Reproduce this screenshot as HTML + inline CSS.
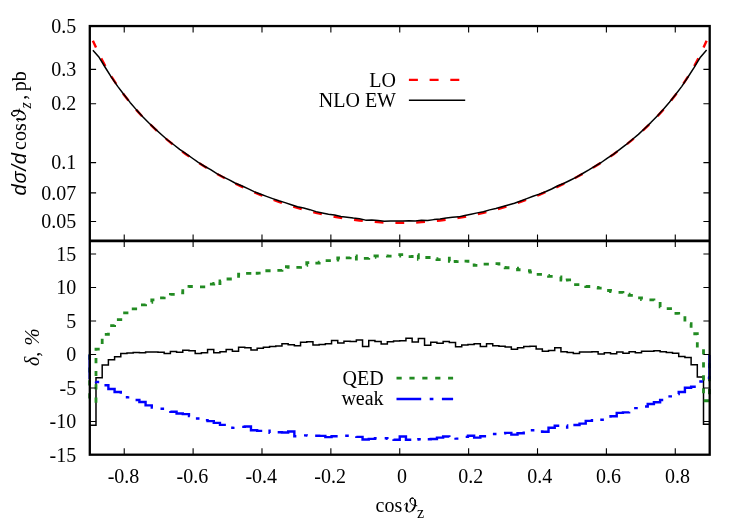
<!DOCTYPE html>
<html><head><meta charset="utf-8"><title>plot</title>
<style>html,body{margin:0;padding:0;background:#fff;}body{width:747px;height:523px;overflow:hidden;font-family:"Liberation Serif",serif;}svg{display:block;will-change:transform;}</style></head>
<body>
<svg width="747" height="523" viewBox="0 0 747 523">
<rect x="0" y="0" width="747" height="523" fill="#fff"/>
<polyline points="92.89,40.76 99.09,54.31 105.29,66.14 111.49,76.64 117.69,86.09 123.89,94.69 130.08,102.58 136.28,109.88 142.48,116.66 148.68,123.00 154.88,128.96 161.08,134.56 167.28,139.85 173.48,144.87 179.68,149.63 185.88,154.15 192.08,158.46 198.28,162.57 204.48,166.49 210.67,170.24 216.87,173.82 223.07,177.24 229.27,180.51 235.47,183.63 241.67,186.62 247.87,189.47 254.07,192.19 260.27,194.79 266.47,197.26 272.67,199.60 278.87,201.83 285.06,203.95 291.26,205.94 297.46,207.82 303.66,209.59 309.86,211.25 316.06,212.79 322.26,214.22 328.46,215.54 334.66,216.76 340.86,217.86 347.06,218.85 353.26,219.73 359.46,220.50 365.65,221.16 371.85,221.71 378.05,222.15 384.25,222.48 390.45,222.70 396.65,222.81 402.85,222.81 409.05,222.70 415.25,222.48 421.45,222.15 427.65,221.71 433.85,221.16 440.04,220.50 446.24,219.73 452.44,218.85 458.64,217.86 464.84,216.76 471.04,215.54 477.24,214.22 483.44,212.79 489.64,211.25 495.84,209.59 502.04,207.82 508.24,205.94 514.44,203.95 520.63,201.83 526.83,199.60 533.03,197.26 539.23,194.79 545.43,192.19 551.63,189.47 557.83,186.62 564.03,183.63 570.23,180.51 576.43,177.24 582.63,173.82 588.83,170.24 595.02,166.49 601.22,162.57 607.42,158.46 613.62,154.15 619.82,149.63 626.02,144.87 632.22,139.85 638.42,134.56 644.62,128.96 650.82,123.00 657.02,116.66 663.22,109.88 669.42,102.58 675.61,94.69 681.81,86.09 688.01,76.64 694.21,66.14 700.41,54.31 706.61,40.76" fill="none" stroke="#ff0000" stroke-width="2.4" stroke-dasharray="8.8 11.96" stroke-dashoffset="1.3"/>
<polyline points="92.89,50.23 99.09,57.32 105.29,67.49 111.49,77.32 117.69,86.36 123.89,94.55 130.08,102.39 136.28,109.63 142.48,116.43 148.68,122.68 154.88,128.63 161.08,134.27 167.28,139.72 173.48,144.49 179.68,149.34 185.88,153.63 192.08,157.99 198.28,162.44 204.48,166.26 210.67,169.62 216.87,173.59 223.07,176.88 229.27,179.87 235.47,183.22 241.67,185.71 247.87,188.61 254.07,191.61 260.27,194.00 266.47,196.34 272.67,198.60 278.87,200.77 285.06,202.61 291.26,204.71 297.46,206.73 303.66,208.07 309.86,209.65 316.06,211.61 322.26,212.95 328.46,214.19 334.66,215.00 340.86,216.41 347.06,217.18 353.26,218.09 359.46,218.68 365.65,220.13 371.85,219.95 378.05,220.51 384.25,221.15 390.45,221.10 396.65,221.12 402.85,221.08 409.05,220.67 415.25,220.90 421.45,220.15 427.65,220.53 433.85,219.62 440.04,219.09 446.24,218.09 452.44,217.34 458.64,216.87 464.84,215.55 471.04,214.28 477.24,212.87 483.44,211.77 489.64,209.89 495.84,208.48 502.04,206.78 508.24,205.00 514.44,203.27 520.63,200.97 526.83,198.61 533.03,196.21 539.23,194.09 545.43,191.78 551.63,188.98 557.83,185.76 564.03,183.28 570.23,180.24 576.43,177.12 582.63,173.49 588.83,169.93 595.02,166.14 601.22,162.50 607.42,158.23 613.62,154.04 619.82,149.32 626.02,144.71 632.22,139.52 638.42,134.33 644.62,128.54 650.82,122.59 657.02,116.19 663.22,109.54 669.42,102.34 675.61,94.54 681.81,86.33 688.01,77.00 694.21,67.44 700.41,57.21 706.61,50.08" fill="none" stroke="#000" stroke-width="1.5" stroke-linejoin="round"/>
<clipPath id="cl"><rect x="88.20" y="240.80" width="623.10" height="213.90"/></clipPath>
<g clip-path="url(#cl)">
<path d="M89.79,425.19 L95.99,425.19 L95.99,377.82 L102.19,377.82 L102.19,365.09 L108.39,365.09 L108.39,359.86 L114.59,359.86 L114.59,356.64 L120.79,356.64 L120.79,353.43 L126.99,353.43 L126.99,353.03 L133.18,353.03 L133.18,352.56 L139.38,352.56 L139.38,352.69 L145.58,352.69 L145.58,351.95 L151.78,351.95 L151.78,351.95 L157.98,351.95 L157.98,352.22 L164.18,352.22 L164.18,353.43 L170.38,353.43 L170.38,351.49 L176.58,351.49 L176.58,352.22 L182.78,352.22 L182.78,350.35 L188.98,350.35 L188.98,350.75 L195.18,350.75 L195.18,353.43 L201.38,353.43 L201.38,352.69 L207.57,352.69 L207.57,349.61 L213.77,349.61 L213.77,352.69 L219.97,352.69 L219.97,351.69 L226.17,351.69 L226.17,349.48 L232.37,349.48 L232.37,351.22 L238.57,351.22 L238.57,347.26 L244.77,347.26 L244.77,347.67 L250.97,347.67 L250.97,349.88 L257.17,349.88 L257.17,348.27 L263.37,348.27 L263.37,347.26 L269.57,347.26 L269.57,346.53 L275.77,346.53 L275.77,346.06 L281.97,346.06 L281.97,343.85 L288.16,343.85 L288.16,344.72 L294.36,344.72 L294.36,345.79 L300.56,345.79 L300.56,342.37 L306.76,342.37 L306.76,341.77 L312.96,341.77 L312.96,345.12 L319.16,345.12 L319.16,344.38 L325.36,344.38 L325.36,343.71 L331.56,343.71 L331.56,340.50 L337.76,340.50 L337.76,342.98 L343.96,342.98 L343.96,341.23 L350.16,341.23 L350.16,341.50 L356.36,341.50 L356.36,340.03 L362.55,340.03 L362.55,346.39 L368.75,346.39 L368.75,340.50 L374.95,340.50 L374.95,341.50 L381.15,341.50 L381.15,343.98 L387.35,343.98 L387.35,341.77 L393.55,341.77 L393.55,341.10 L399.75,341.10 L399.75,340.76 L405.95,340.76 L405.95,338.29 L412.15,338.29 L412.15,341.97 L418.35,341.97 L418.35,338.55 L424.55,338.55 L424.55,345.19 L430.75,345.19 L430.75,342.24 L436.95,342.24 L436.95,343.31 L443.14,343.31 L443.14,341.50 L449.34,341.50 L449.34,342.51 L455.54,342.51 L455.54,346.66 L461.74,346.66 L461.74,344.92 L467.94,344.92 L467.94,344.45 L474.14,344.45 L474.14,343.71 L480.34,343.71 L480.34,346.39 L486.54,346.39 L486.54,343.71 L492.74,343.71 L492.74,345.66 L498.94,345.66 L498.94,346.19 L505.14,346.19 L505.14,347.00 L511.34,347.00 L511.34,349.14 L517.53,349.14 L517.53,347.67 L523.73,347.67 L523.73,346.59 L529.93,346.59 L529.93,346.19 L536.13,346.19 L536.13,349.01 L542.33,349.01 L542.33,351.22 L548.53,351.22 L548.53,350.61 L554.73,350.61 L554.73,347.67 L560.93,347.67 L560.93,351.69 L567.13,351.69 L567.13,352.42 L573.33,352.42 L573.33,353.56 L579.53,353.56 L579.53,351.95 L585.73,351.95 L585.73,352.09 L591.93,352.09 L591.93,351.69 L598.12,351.69 L598.12,353.90 L604.32,353.90 L604.32,352.69 L610.52,352.69 L610.52,353.63 L616.72,353.63 L616.72,352.09 L622.92,352.09 L622.92,353.23 L629.12,353.23 L629.12,351.82 L635.32,351.82 L635.32,352.69 L641.52,352.69 L641.52,351.22 L647.72,351.22 L647.72,351.22 L653.92,351.22 L653.92,350.75 L660.12,350.75 L660.12,351.82 L666.32,351.82 L666.32,352.56 L672.51,352.56 L672.51,353.29 L678.71,353.29 L678.71,356.38 L684.91,356.38 L684.91,357.38 L691.11,357.38 L691.11,364.75 L697.31,364.75 L697.31,377.01 L703.51,377.01 L703.51,424.18 L709.71,424.18" fill="none" stroke="#000" stroke-width="1.5" stroke-linejoin="miter"/>
<path d="M89.54,354.50 L89.54,401.40 L95.99,401.40 L95.99,349.14 L102.19,349.14 L102.19,334.40 L108.39,334.40 L108.39,325.69 L114.59,325.69 L114.59,319.66 L120.79,319.66 L120.79,312.96 L126.99,312.96 L126.99,310.95 L133.18,310.95 L133.18,308.94 L139.38,308.94 L139.38,304.92 L145.58,304.92 L145.58,302.24 L151.78,302.24 L151.78,299.89 L157.98,299.89 L157.98,297.88 L164.18,297.88 L164.18,296.21 L170.38,296.21 L170.38,294.40 L176.58,294.40 L176.58,292.86 L182.78,292.86 L182.78,288.17 L188.98,288.17 L188.98,286.50 L195.18,286.50 L195.18,286.83 L201.38,286.83 L201.38,286.83 L207.57,286.83 L207.57,284.15 L213.77,284.15 L213.77,283.48 L219.97,283.48 L219.97,280.80 L226.17,280.80 L226.17,278.99 L232.37,278.99 L232.37,278.12 L238.57,278.12 L238.57,274.10 L244.77,274.10 L244.77,273.43 L250.97,273.43 L250.97,273.43 L257.17,273.43 L257.17,273.10 L263.37,273.10 L263.37,270.75 L269.57,270.75 L269.57,270.75 L275.77,270.75 L275.77,270.41 L281.97,270.41 L281.97,266.73 L288.16,266.73 L288.16,267.40 L294.36,267.40 L294.36,267.40 L300.56,267.40 L300.56,265.39 L306.76,265.39 L306.76,262.71 L312.96,262.71 L312.96,263.05 L319.16,263.05 L319.16,262.04 L325.36,262.04 L325.36,260.70 L331.56,260.70 L331.56,260.03 L337.76,260.03 L337.76,258.02 L343.96,258.02 L343.96,257.82 L350.16,257.82 L350.16,256.01 L356.36,256.01 L356.36,260.70 L362.55,260.70 L362.55,258.36 L368.75,258.36 L368.75,257.35 L374.95,257.35 L374.95,256.01 L381.15,256.01 L381.15,256.01 L387.35,256.01 L387.35,256.21 L393.55,256.21 L393.55,256.01 L399.75,256.01 L399.75,254.67 L405.95,254.67 L405.95,256.68 L412.15,256.68 L412.15,254.67 L418.35,254.67 L418.35,259.36 L424.55,259.36 L424.55,257.48 L430.75,257.48 L430.75,258.69 L436.95,258.69 L436.95,259.69 L443.14,259.69 L443.14,256.68 L449.34,256.68 L449.34,261.37 L455.54,261.37 L455.54,261.70 L461.74,261.70 L461.74,261.03 L467.94,261.03 L467.94,263.38 L474.14,263.38 L474.14,265.39 L480.34,265.39 L480.34,264.05 L486.54,264.05 L486.54,264.05 L492.74,264.05 L492.74,263.71 L498.94,263.71 L498.94,267.40 L505.14,267.40 L505.14,267.74 L511.34,267.74 L511.34,268.07 L517.53,268.07 L517.53,269.75 L523.73,269.75 L523.73,270.75 L529.93,270.75 L529.93,272.09 L536.13,272.09 L536.13,274.44 L542.33,274.44 L542.33,275.44 L548.53,275.44 L548.53,276.44 L554.73,276.44 L554.73,276.78 L560.93,276.78 L560.93,280.13 L567.13,280.13 L567.13,279.93 L573.33,279.93 L573.33,284.62 L579.53,284.62 L579.53,285.49 L585.73,285.49 L585.73,286.50 L591.93,286.50 L591.93,287.50 L598.12,287.50 L598.12,288.17 L604.32,288.17 L604.32,290.51 L610.52,290.51 L610.52,291.52 L616.72,291.52 L616.72,292.39 L622.92,292.39 L622.92,294.20 L629.12,294.20 L629.12,295.34 L635.32,295.34 L635.32,297.88 L641.52,297.88 L641.52,299.56 L647.72,299.56 L647.72,299.89 L653.92,299.89 L653.92,300.90 L660.12,300.90 L660.12,306.93 L666.32,306.93 L666.32,308.61 L672.51,308.61 L672.51,313.43 L678.71,313.43 L678.71,317.65 L684.91,317.65 L684.91,323.68 L691.11,323.68 L691.11,333.73 L697.31,333.73 L697.31,348.47 L703.51,348.47 L703.51,400.73 L709.46,400.73 L709.46,354.50" fill="none" stroke="#228b22" stroke-width="2.8" stroke-dasharray="0.00 0.00 5.20 7.70 5.20 7.70 5.20 7.70 5.20 8.05 5.20 8.10 5.20 8.20 5.20 7.70 5.20 7.37 5.20 7.63 5.20 7.01 5.20 8.91 5.20 7.53 5.20 7.80 5.20 7.52 5.20 7.92 5.20 8.03 5.20 7.71 5.20 7.68 5.20 8.08 5.20 7.53 5.20 7.53 5.20 7.38 5.20 4.02 5.20 7.44 5.20 7.96 5.20 6.70 5.20 4.43 5.20 7.14 5.20 7.13 5.20 6.08 5.20 6.87 5.20 7.16 5.20 6.46 5.20 7.44 5.20 6.56 5.20 6.02 5.20 6.55 5.20 9.99 5.20 6.84 5.20 7.80 5.20 7.94 5.20 7.51 5.20 5.99 5.20 8.89 5.20 7.11 5.20 11.88 5.20 3.66 5.20 6.67 5.20 6.75 5.20 7.64 5.20 7.03 5.20 7.52 5.20 7.91 5.20 8.49 5.20 7.20 5.20 7.51 5.20 7.98 5.20 3.90 5.20 7.79 5.20 7.58 5.20 7.87 5.20 7.84 5.20 8.08 5.20 6.85 5.20 7.85 5.20 8.11 5.20 7.52 5.20 8.09 5.20 7.42 5.20 7.98 5.20 7.30 5.20 8.22 5.20 7.38 5.20 8.00 5.20 7.80 5.20 7.70 5.20 7.70 5.20 7.62 5.20 7.09 5.20 7.70 5.20 7.70 5.20 58.60"/>
<path d="M89.54,354.50 L89.54,377.95 L95.99,377.95 L95.99,381.97 L102.19,381.97 L102.19,385.32 L108.39,385.32 L108.39,389.00 L114.59,389.00 L114.59,392.02 L120.79,392.02 L120.79,394.70 L126.99,394.70 L126.99,397.38 L133.18,397.38 L133.18,400.06 L139.38,400.06 L139.38,402.07 L145.58,402.07 L145.58,405.42 L151.78,405.42 L151.78,407.43 L157.98,407.43 L157.98,408.77 L164.18,408.77 L164.18,410.44 L170.38,410.44 L170.38,411.79 L176.58,411.79 L176.58,413.46 L182.78,413.46 L182.78,414.13 L188.98,414.13 L188.98,416.14 L195.18,416.14 L195.18,418.49 L201.38,418.49 L201.38,420.16 L207.57,420.16 L207.57,421.16 L213.77,421.16 L213.77,422.84 L219.97,422.84 L219.97,424.85 L226.17,424.85 L226.17,426.19 L232.37,426.19 L232.37,427.87 L238.57,427.87 L238.57,426.86 L244.77,426.86 L244.77,426.52 L250.97,426.52 L250.97,430.21 L257.17,430.21 L257.17,430.88 L263.37,430.88 L263.37,429.54 L269.57,429.54 L269.57,432.89 L275.77,432.89 L275.77,432.22 L281.97,432.22 L281.97,432.56 L288.16,432.56 L288.16,431.55 L294.36,431.55 L294.36,436.24 L300.56,436.24 L300.56,435.37 L306.76,435.37 L306.76,435.57 L312.96,435.57 L312.96,435.77 L319.16,435.77 L319.16,435.90 L325.36,435.90 L325.36,437.11 L331.56,437.11 L331.56,436.24 L337.76,436.24 L337.76,435.90 L343.96,435.90 L343.96,435.77 L350.16,435.77 L350.16,436.24 L356.36,436.24 L356.36,436.91 L362.55,436.91 L362.55,439.46 L368.75,439.46 L368.75,438.92 L374.95,438.92 L374.95,438.25 L381.15,438.25 L381.15,438.25 L387.35,438.25 L387.35,438.92 L393.55,438.92 L393.55,439.79 L399.75,439.79 L399.75,436.51 L405.95,436.51 L405.95,439.79 L412.15,439.79 L412.15,439.59 L418.35,439.59 L418.35,439.32 L424.55,439.32 L424.55,439.25 L430.75,439.25 L430.75,439.05 L436.95,439.05 L436.95,437.58 L443.14,437.58 L443.14,436.57 L449.34,436.57 L449.34,437.58 L455.54,437.58 L455.54,438.59 L461.74,438.59 L461.74,436.91 L467.94,436.91 L467.94,435.77 L474.14,435.77 L474.14,437.58 L480.34,437.58 L480.34,436.24 L486.54,436.24 L486.54,434.90 L492.74,434.90 L492.74,434.03 L498.94,434.03 L498.94,433.23 L505.14,433.23 L505.14,432.89 L511.34,432.89 L511.34,434.63 L517.53,434.63 L517.53,433.29 L523.73,433.29 L523.73,431.55 L529.93,431.55 L529.93,430.21 L536.13,430.21 L536.13,431.55 L542.33,431.55 L542.33,431.82 L548.53,431.82 L548.53,427.73 L554.73,427.73 L554.73,425.79 L560.93,425.79 L560.93,425.52 L567.13,425.52 L567.13,427.53 L573.33,427.53 L573.33,425.05 L579.53,425.05 L579.53,423.58 L585.73,423.58 L585.73,420.83 L591.93,420.83 L591.93,420.16 L598.12,420.16 L598.12,419.82 L604.32,419.82 L604.32,418.15 L610.52,418.15 L610.52,416.27 L616.72,416.27 L616.72,412.86 L622.92,412.86 L622.92,412.39 L629.12,412.39 L629.12,410.11 L635.32,410.11 L635.32,408.10 L641.52,408.10 L641.52,406.56 L647.72,406.56 L647.72,404.01 L653.92,404.01 L653.92,402.27 L660.12,402.27 L660.12,400.06 L666.32,400.06 L666.32,396.38 L672.51,396.38 L672.51,394.03 L678.71,394.03 L678.71,391.95 L684.91,391.95 L684.91,387.80 L691.11,387.80 L691.11,386.79 L697.31,386.79 L697.31,381.57 L703.51,381.57 L703.51,377.95 L709.46,377.95 L709.46,354.50" fill="none" stroke="#0000ff" stroke-width="2.4" stroke-dasharray="24.70 8.83 3.60 8.60 24.70 8.60 3.60 8.95 24.70 8.95 3.60 8.41 24.70 8.41 3.60 8.04 24.70 8.04 3.60 8.73 24.70 8.73 3.60 8.50 24.70 8.50 3.60 7.99 24.70 7.99 3.60 8.05 24.70 8.05 3.60 6.39 24.70 6.39 3.60 7.03 24.70 7.03 3.60 8.99 24.70 8.99 3.60 8.45 24.70 8.45 3.60 7.81 24.70 7.81 3.60 7.45 24.70 7.45 3.60 8.66 24.70 8.66 3.60 8.81 24.70 8.81 3.60 8.70 24.70 8.70 3.60 8.55 24.70 50.38"/>
</g>
<g stroke="#000" fill="none">
<rect x="89.8" y="26.05" width="619.90" height="428.65" stroke-width="2.3"/>
<line x1="89.8" x2="709.7" y1="240.8" y2="240.8" stroke-width="2.8"/>
<path d="M124.23,26.05v6.5 M124.23,234.5v12.6 M124.23,454.7v-6.5 M193.11,26.05v6.5 M193.11,234.5v12.6 M193.11,454.7v-6.5 M261.99,26.05v6.5 M261.99,234.5v12.6 M261.99,454.7v-6.5 M330.87,26.05v6.5 M330.87,234.5v12.6 M330.87,454.7v-6.5 M399.75,26.05v6.5 M399.75,234.5v12.6 M399.75,454.7v-6.5 M468.63,26.05v6.5 M468.63,234.5v12.6 M468.63,454.7v-6.5 M537.51,26.05v6.5 M537.51,234.5v12.6 M537.51,454.7v-6.5 M606.39,26.05v6.5 M606.39,234.5v12.6 M606.39,454.7v-6.5 M675.27,26.05v6.5 M675.27,234.5v12.6 M675.27,454.7v-6.5 M89.8,69.34h6.3 M709.7,69.34h-6.3 M89.8,103.77h6.3 M709.7,103.77h-6.3 M89.8,162.61h6.3 M709.7,162.61h-6.3 M89.8,192.89h6.3 M709.7,192.89h-6.3 M89.8,221.45h6.3 M709.7,221.45h-6.3 M89.8,254.00h6.3 M709.7,254.00h-6.3 M89.8,287.50h6.3 M709.7,287.50h-6.3 M89.8,321.00h6.3 M709.7,321.00h-6.3 M89.8,354.50h6.3 M709.7,354.50h-6.3 M89.8,388.00h6.3 M709.7,388.00h-6.3 M89.8,421.50h6.3 M709.7,421.50h-6.3" stroke-width="1.1"/>
</g>
<line x1="408.9" x2="465.2" y1="79.9" y2="79.9" stroke="#ff0000" stroke-width="2.4" stroke-dasharray="9 11.7"/>
<line x1="408.9" x2="465.2" y1="100.3" y2="100.3" stroke="#000" stroke-width="1.5"/>
<line x1="396.5" x2="453.1" y1="378.2" y2="378.2" stroke="#228b22" stroke-width="2.8" stroke-dasharray="5.2 7.7"/>
<line x1="396.5" x2="453.1" y1="399" y2="399" stroke="#0000ff" stroke-width="2.5" stroke-dasharray="24.7 8.5 3.7 8.5"/>
<g font-family="'Liberation Serif', serif" font-size="20px" fill="#000">
<text x="396" y="87.2" text-anchor="end">LO</text>
<text x="396" y="107.2" text-anchor="end">NLO EW</text>
<text x="383.6" y="385.3" text-anchor="end">QED</text>
<text x="383.6" y="405.4" text-anchor="end">weak</text>
<text x="76.2" y="32.68" text-anchor="end">0.5</text>
<text x="76.2" y="76.04" text-anchor="end">0.3</text>
<text x="76.2" y="110.47" text-anchor="end">0.2</text>
<text x="76.2" y="169.31" text-anchor="end">0.1</text>
<text x="76.2" y="199.59" text-anchor="end">0.07</text>
<text x="76.2" y="228.15" text-anchor="end">0.05</text>
<text x="76.2" y="260.70" text-anchor="end">15</text>
<text x="76.2" y="294.20" text-anchor="end">10</text>
<text x="76.2" y="327.70" text-anchor="end">5</text>
<text x="76.2" y="361.20" text-anchor="end">0</text>
<text x="76.2" y="394.70" text-anchor="end">-5</text>
<text x="76.2" y="428.20" text-anchor="end">-10</text>
<text x="76.2" y="461.70" text-anchor="end">-15</text>
<text x="123.53" y="482.6" text-anchor="middle">-0.8</text>
<text x="192.41" y="482.6" text-anchor="middle">-0.6</text>
<text x="261.29" y="482.6" text-anchor="middle">-0.4</text>
<text x="330.17" y="482.6" text-anchor="middle">-0.2</text>
<text x="401.95" y="482.6" text-anchor="middle">0</text>
<text x="470.83" y="482.6" text-anchor="middle">0.2</text>
<text x="539.71" y="482.6" text-anchor="middle">0.4</text>
<text x="608.59" y="482.6" text-anchor="middle">0.6</text>
<text x="677.47" y="482.6" text-anchor="middle">0.8</text>
<text x="375.5" y="512">cos</text>
<g transform="translate(403.9,512)" fill="none" stroke="#000" stroke-linecap="round" stroke-linejoin="round"><path d="M0.60,-7.00 C0.75,-7.22 1.12,-8.05 1.50,-8.30 C1.88,-8.55 2.69,-8.95 2.90,-8.50 C3.11,-8.05 2.83,-6.50 2.75,-5.60 C2.67,-4.70 2.36,-3.90 2.45,-3.10 C2.54,-2.30 2.74,-1.32 3.30,-0.80 C3.86,-0.28 4.93,0.13 5.80,0.00 C6.67,-0.13 7.68,-0.75 8.50,-1.60 C9.32,-2.45 10.22,-3.95 10.70,-5.10 C11.18,-6.25 11.35,-7.35 11.40,-8.50 C11.45,-9.65 11.40,-11.10 11.00,-12.00 C10.60,-12.90 9.68,-13.68 9.00,-13.90 C8.32,-14.12 7.37,-13.78 6.90,-13.30 C6.43,-12.82 6.13,-11.83 6.20,-11.00 C6.27,-10.17 6.67,-9.00 7.30,-8.30 C7.93,-7.60 9.05,-7.13 10.00,-6.80 C10.95,-6.47 12.50,-6.38 13.00,-6.30" stroke-width="0.95"/><path d="M2.90,-8.50 C3.11,-8.05 2.83,-6.50 2.75,-5.60 C2.67,-4.70 2.36,-3.90 2.45,-3.10 C2.54,-2.30 2.74,-1.32 3.30,-0.80" stroke-width="1.7"/><path d="M8.50,-1.60 C9.32,-2.45 10.22,-3.95 10.70,-5.10 C11.18,-6.25 11.35,-7.35 11.40,-8.50 C11.45,-9.65 11.40,-11.10 11.00,-12.00" stroke-width="1.6"/><path d="M9.00,-13.90 C8.32,-14.12 7.37,-13.78 6.90,-13.30 C6.43,-12.82 6.13,-11.83 6.20,-11.00" stroke-width="1.2"/></g>
<text x="416.9" y="517.6" font-size="16px">z</text>
<g transform="translate(25.6,0) rotate(-90)">
<text x="-195.6" y="0" font-family="'Liberation Sans', sans-serif" font-style="italic" letter-spacing="0.9">dσ/d</text>
<text x="-150" y="0">cos</text>
<g transform="translate(-122.0,0)" fill="none" stroke="#000" stroke-linecap="round" stroke-linejoin="round"><path d="M0.60,-7.00 C0.75,-7.22 1.12,-8.05 1.50,-8.30 C1.88,-8.55 2.69,-8.95 2.90,-8.50 C3.11,-8.05 2.83,-6.50 2.75,-5.60 C2.67,-4.70 2.36,-3.90 2.45,-3.10 C2.54,-2.30 2.74,-1.32 3.30,-0.80 C3.86,-0.28 4.93,0.13 5.80,0.00 C6.67,-0.13 7.68,-0.75 8.50,-1.60 C9.32,-2.45 10.22,-3.95 10.70,-5.10 C11.18,-6.25 11.35,-7.35 11.40,-8.50 C11.45,-9.65 11.40,-11.10 11.00,-12.00 C10.60,-12.90 9.68,-13.68 9.00,-13.90 C8.32,-14.12 7.37,-13.78 6.90,-13.30 C6.43,-12.82 6.13,-11.83 6.20,-11.00 C6.27,-10.17 6.67,-9.00 7.30,-8.30 C7.93,-7.60 9.05,-7.13 10.00,-6.80 C10.95,-6.47 12.50,-6.38 13.00,-6.30" stroke-width="0.95"/><path d="M2.90,-8.50 C3.11,-8.05 2.83,-6.50 2.75,-5.60 C2.67,-4.70 2.36,-3.90 2.45,-3.10 C2.54,-2.30 2.74,-1.32 3.30,-0.80" stroke-width="1.7"/><path d="M8.50,-1.60 C9.32,-2.45 10.22,-3.95 10.70,-5.10 C11.18,-6.25 11.35,-7.35 11.40,-8.50 C11.45,-9.65 11.40,-11.10 11.00,-12.00" stroke-width="1.6"/><path d="M9.00,-13.90 C8.32,-14.12 7.37,-13.78 6.90,-13.30 C6.43,-12.82 6.13,-11.83 6.20,-11.00" stroke-width="1.2"/></g>
<text x="-108.6" y="5.4" font-size="16px" font-style="italic">z</text>
<text x="-99.8" y="0">,</text>
<text x="-91.3" y="0">pb</text>
</g>
<text transform="translate(39,366) rotate(-90)" font-style="italic">δ,<tspan dx="6" font-size="21px">%</tspan></text>
</g>
</svg>
</body></html>
